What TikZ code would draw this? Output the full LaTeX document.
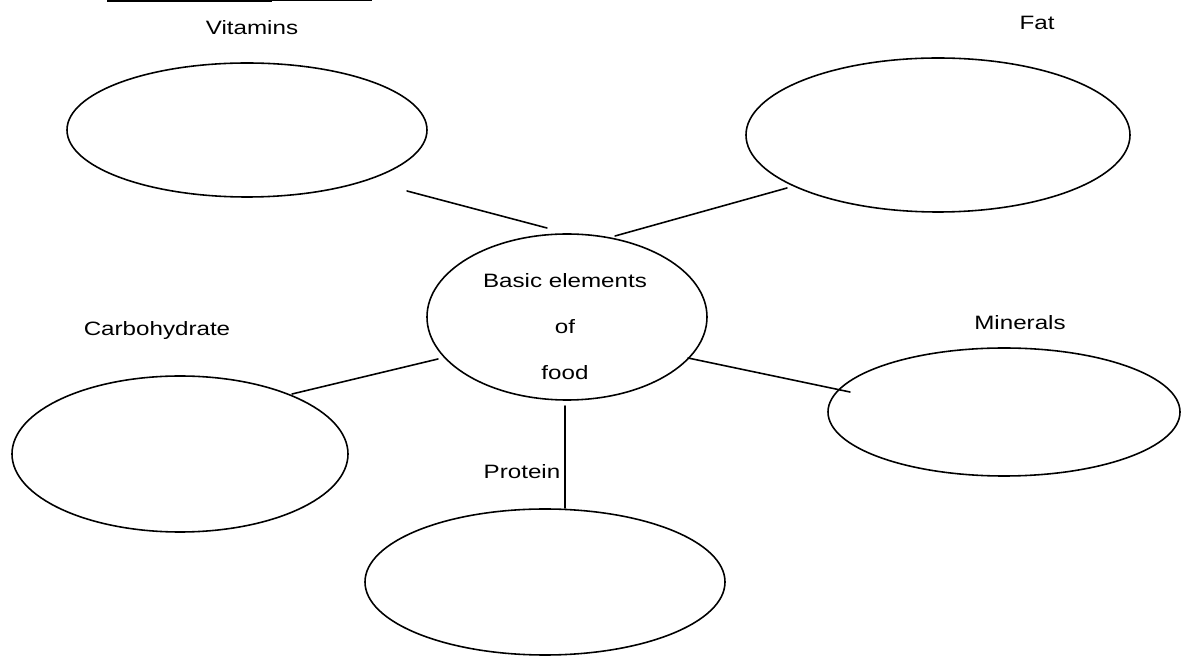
\documentclass[tikz,border=0pt]{standalone}
\usepackage{fontspec}
\setmainfont{Liberation Sans}[FakeStretch=1.25]
\usepackage{tikz}
\usepackage{tkz-euclide}
\usepackage{xcolor}
\usetikzlibrary{shapes.geometric}

\begin{document}
\begin{tikzpicture}[
    blob/.style={ellipse,draw,line width=0.9pt,inner sep=0pt},
    lbl/.style={font=\fontsize{11}{13.2}\selectfont}]
    \useasboundingbox (0,0) rectangle (23.72,13.16);
    % top rule
    \draw[line width=2.2pt] (2.14,13.16) -- (5.44,13.16);
    \draw[line width=0.9pt] (5.44,13.16) -- (7.44,13.16);
    \node[blob,minimum width=7.2cm,minimum height=2.68cm] (vit) at (4.94,10.56) {};
    \node[blob,minimum width=7.68cm,minimum height=3.08cm] (fat) at (18.76,10.46) {};
    \node[blob,minimum width=6.72cm,minimum height=3.12cm] (carb) at (3.6,4.08) {};
    \node[blob,minimum width=7.2cm,minimum height=2.92cm] (prot) at (10.9,1.52) {};
    \node[blob,minimum width=7.04cm,minimum height=2.56cm] (mine) at (20.08,4.92) {};
    \node[blob,minimum width=5.6cm,minimum height=3.32cm] (food) at (11.34,6.82) {};
    \node[lbl,align=center] (tfood) at (11.3,6.62) {Basic elements\\[13pt]of\\[13pt]food};
    \node[lbl] (tvit) at (5.04,12.6) {Vitamins};
    \node[lbl] (tfat) at (20.74,12.7) {Fat};
    \node[lbl] (tcarb) at (3.14,6.54) {Carbohydrate};
    \node[lbl] (tmine) at (20.4,6.7) {Minerals};
    \node[lbl] (tprot) at (10.44,3.72) {Protein};
    \tkzDefPoints{8.14/9.34/V1,10.94/8.6/V2,15.74/9.4/F1,12.3/8.44/F2}
    \tkzDefPoints{5.84/5.28/C1,8.76/5.98/C2,13.76/6.0/M1,17.0/5.32/M2}
    \tkzDefPoints{11.3/5.04/P1,11.3/3.0/P2}
    \tkzDrawSegments[line width=0.9pt](V1,V2 F1,F2 C1,C2 M1,M2 P1,P2)
\end{tikzpicture}
\end{document}
